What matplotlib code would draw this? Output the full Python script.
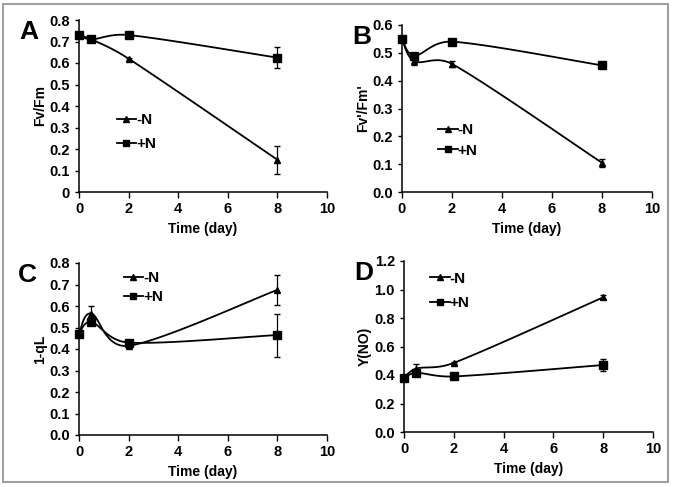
import numpy as np
import matplotlib.pyplot as plt
from matplotlib.patches import Rectangle

plt.rcParams['font.family'] = ['Liberation Sans', 'DejaVu Sans']
plt.rcParams['font.weight'] = 'bold'

dias = [0, 0.5, 2, 8]

# A: Fv/Fm
a_menos = [0.73, 0.71, 0.62, 0.15]
a_menos_err = [0.0, 0.0, 0.005, 0.065]
a_mais = [0.73, 0.71, 0.73, 0.625]
a_mais_err = [0.0, 0.0, 0.0, 0.05]

# B: Fv'/Fm'
b_menos = [0.55, 0.47, 0.46, 0.105]
b_menos_err = [0.0, 0.012, 0.01, 0.015]
b_mais = [0.55, 0.49, 0.54, 0.455]
b_mais_err = [0.0, 0.0, 0.0, 0.005]

# C: 1-qL
c_menos = [0.47, 0.565, 0.415, 0.675]
c_menos_err = [0.0, 0.035, 0.005, 0.07]
c_mais = [0.47, 0.525, 0.43, 0.465]
c_mais_err = [0.0, 0.0, 0.0, 0.1]

# D: Y(NO)
d_menos = [0.38, 0.445, 0.485, 0.945]
d_menos_err = [0.0, 0.03, 0.005, 0.015]
d_mais = [0.38, 0.415, 0.39, 0.47]
d_mais_err = [0.0, 0.0, 0.0, 0.045]


def suavizar(x, y, sx, sy, n=40):
    # curva suave parecida com a do Excel (Bezier com controles limitados)
    # sx, sy: escala para pixels, para as distancias ficarem certas
    p = np.column_stack([np.asarray(x, float) * sx, np.asarray(y, float) * sy])
    pp = np.vstack([p[0], p, p[-1]])
    t = np.linspace(0, 1, n)[:, None]
    out = []
    for i in range(1, len(pp) - 2):
        p0, p1, p2, p3 = pp[i - 1], pp[i], pp[i + 1], pp[i + 2]
        seg = np.linalg.norm(p2 - p1)
        m1 = (p2 - p0) / 6
        m2 = (p3 - p1) / 6
        if np.linalg.norm(m1) > seg / 2:
            m1 = m1 / np.linalg.norm(m1) * seg / 2
        if np.linalg.norm(m2) > seg / 2:
            m2 = m2 / np.linalg.norm(m2) * seg / 2
        c1 = p1 + m1
        c2 = p2 - m2
        b = (1 - t) ** 3 * p1 + 3 * (1 - t) ** 2 * t * c1 + 3 * (1 - t) * t ** 2 * c2 + t ** 3 * p2
        out.append(b)
    out = np.vstack(out)
    return out[:, 0] / sx, out[:, 1] / sy


def painel(ax, letra, ylabel, menos, menos_err, mais, mais_err, ymax, yticks, fmt,
           leg_pos, leg_esp, letra_x):
    bb = ax.get_position()
    sx = bb.width * W / 10
    sy = bb.height * H / ymax
    for vals, errs, marc, ms in [(menos, menos_err, '^', 5), (mais, mais_err, 's', 5.5)]:
        cx, cy = suavizar(dias, vals, sx, sy)
        ax.plot(cx, cy, color='black', lw=1.3, clip_on=False)
        ax.errorbar(dias, vals, yerr=errs, fmt=marc, color='black', ms=ms,
                    ecolor='black', elinewidth=0.9, capsize=2, clip_on=False, zorder=3)
    # legenda manual
    h1, = ax.plot([], [], '-^', color='black', ms=4, lw=1.3)
    h2, = ax.plot([], [], '-s', color='black', ms=4.5, lw=1.3)
    ax.legend([h1, h2], ['-N', '+N'], loc='upper left', bbox_to_anchor=leg_pos,
              frameon=False, handlelength=1.3, handletextpad=0.0, labelspacing=leg_esp,
              prop={'weight': 'bold', 'size': 11})
    ax.set_xlim(0, 10)
    ax.set_ylim(0, ymax)
    ax.set_xticks([0, 2, 4, 6, 8, 10])
    ax.set_yticks(yticks)
    ax.set_yticklabels([fmt.format(v) for v in yticks])
    ax.spines['top'].set_visible(False)
    ax.spines['right'].set_visible(False)
    ax.spines['left'].set_linewidth(1.1)
    ax.spines['bottom'].set_linewidth(1.1)
    ax.tick_params(direction='out', length=4, width=1, labelsize=10.5)
    ax.tick_params(axis='y', length=3)
    for lab in ax.get_xticklabels() + ax.get_yticklabels():
        lab.set_fontweight('bold')
    ax.set_xlabel('Time (day)', fontsize=10, fontweight='bold', labelpad=4)
    ax.set_ylabel(ylabel, fontsize=10, fontweight='bold', labelpad=1.5)
    ax.text(letra_x, 1.0, letra, transform=ax.transAxes, fontsize=19, fontweight='bold',
            va='top', ha='left')


W, H = 675, 487
fig = plt.figure(figsize=(W / 100, H / 100), dpi=100)


def eixo(x0, x1, y0, y1):
    return fig.add_axes([x0 / W, 1 - y1 / H, (x1 - x0) / W, (y1 - y0) / H])


axA = eixo(79, 327, 20, 192)
axB = eixo(402, 652, 25, 192)
axC = eixo(79, 327, 263, 435)
axD = eixo(404, 653, 261, 432)

painel(axA, 'A', 'Fv/Fm', a_menos, a_menos_err, a_mais, a_mais_err, 0.8,
       [0, 0.1, 0.2, 0.3, 0.4, 0.5, 0.6, 0.7, 0.8], '{:g}', (0.096, 0.537), 0.64, -0.24)
painel(axB, 'B', "Fv'/Fm'", b_menos, b_menos_err, b_mais, b_mais_err, 0.6,
       [0, 0.1, 0.2, 0.3, 0.4, 0.5, 0.6], '{:.1f}', (0.088, 0.496), 0.44, -0.2)
painel(axC, 'C', '1-qL', c_menos, c_menos_err, c_mais, c_mais_err, 0.8,
       [0, 0.1, 0.2, 0.3, 0.4, 0.5, 0.6, 0.7, 0.8], '{:.1f}', (0.124, 1.032), 0.31, -0.245)
painel(axD, 'D', 'Y(NO)', d_menos, d_menos_err, d_mais, d_mais_err, 1.2,
       [0, 0.2, 0.4, 0.6, 0.8, 1.0, 1.2], '{:.1f}', (0.048, 1.0175), 0.7, -0.2)

# moldura cinza
fig.patches.append(Rectangle((3 / W, 1 - 482 / H), 665 / W, 478 / H, transform=fig.transFigure,
                             fill=False, edgecolor='#a0a0a0', lw=1.5))

fig.savefig('out.png', dpi=100)
